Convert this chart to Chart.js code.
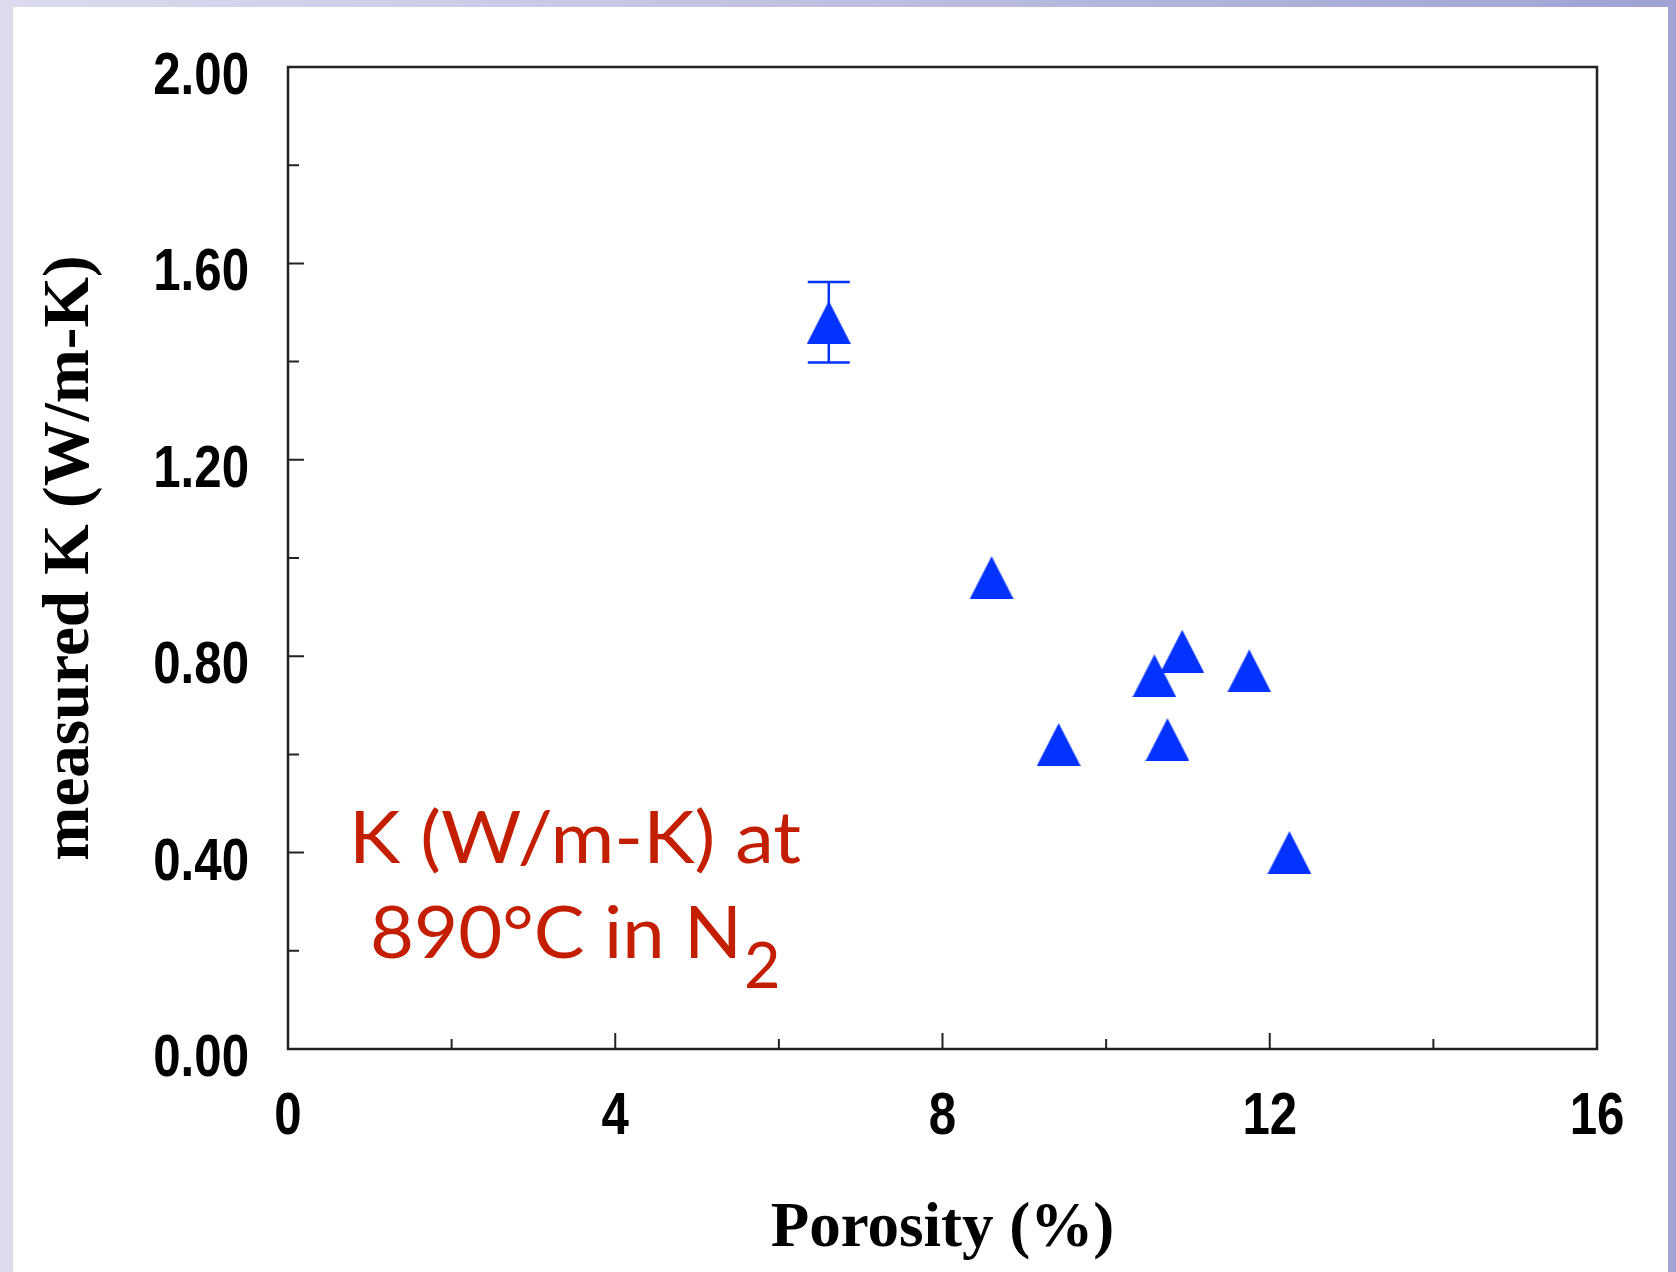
<!DOCTYPE html>
<html>
<head>
<meta charset="utf-8">
<title>Measured K vs porosity</title>
<script src="https://cdn.jsdelivr.net/npm/chart.js@4.4.1/dist/chart.umd.min.js"></script>
<style>
  html, body { margin: 0; padding: 0; }
  body {
    width: 1676px;
    height: 1272px;
    overflow: hidden;
    position: relative;
    background: linear-gradient(to right, #dcdcee, #a0a3d3);
  }
  #panel { position: absolute; left: 13px; top: 7px; width: 1655px; height: 1265px; background: #fff; }
  #myChart { position: absolute; left: 0; top: 0; }
</style>
</head>
<body>
<div id="panel"></div>
<canvas id="myChart" width="1676" height="1272"></canvas>
<script>
/* globals Chart:false */

// Data
const porosity = [6.61, 8.60, 9.42, 10.59, 10.75, 10.93, 11.75, 12.24]
const kMeasured = [1.48, 0.96, 0.62, 0.76, 0.63, 0.81, 0.77, 0.40]
const kError = [0.082, 0, 0, 0, 0, 0, 0, 0]

// Axis ticks
const xTicks = [0, 4, 8, 12, 16]
const xMinor = [2, 6, 10, 14]
const yTicks = [0, 0.4, 0.8, 1.2, 1.6, 2.0]
const yMinor = [0.2, 0.6, 1.0, 1.4, 1.8]

const noteLine1 = 'K (W/m-K) at'
const noteLine2 = '890°C in N'
const noteSub = '2'

const blue = '#0433ff'
const red = '#c41e00'
const axisColor = '#222'
const labelFont = 'bold 60px "Liberation Sans", Arial, sans-serif'
const titleFont = { family: "'Liberation Serif', 'Times New Roman', serif", weight: 'bold', size: 63 }

// filled triangle marker, centred on its bounding box
const tri = document.createElement('canvas')
tri.width = 44
tri.height = 43
const tctx = tri.getContext('2d')
tctx.fillStyle = blue
tctx.beginPath()
tctx.moveTo(22, 0)
tctx.lineTo(44, 43)
tctx.lineTo(0, 43)
tctx.closePath()
tctx.fill()

// narrow bold text (the original uses a condensed face)
function narrowText(ctx, text, x, y, align) {
  const sx = 0.82
  ctx.save()
  ctx.translate(x, y)
  ctx.scale(sx, 1)
  ctx.textAlign = align
  ctx.fillText(text, 0, 0)
  ctx.restore()
}

function stretchText(ctx, text, x, y, width) {
  const w = ctx.measureText(text).width
  ctx.save()
  ctx.translate(x, y)
  ctx.scale(width / w, 1)
  ctx.fillText(text, 0, 0)
  ctx.restore()
}

const framePlugin = {
  id: 'frame',
  beforeDatasetsDraw(chart) {
    const { ctx, scales: { x, y } } = chart
    // error bars
    ctx.save()
    ctx.strokeStyle = blue
    ctx.lineWidth = 2.5
    porosity.forEach((p, i) => {
      if (!kError[i]) return
      const px = x.getPixelForValue(p)
      const top = y.getPixelForValue(kMeasured[i] + kError[i])
      const bot = y.getPixelForValue(kMeasured[i] - kError[i])
      ctx.beginPath()
      ctx.moveTo(px, top); ctx.lineTo(px, bot)
      ctx.moveTo(px - 21, top); ctx.lineTo(px + 21, top)
      ctx.moveTo(px - 21, bot); ctx.lineTo(px + 21, bot)
      ctx.stroke()
    })
    ctx.restore()
  },
  afterDraw(chart) {
    const { ctx, chartArea: a, scales: { x, y } } = chart
    ctx.save()
    ctx.strokeStyle = axisColor
    ctx.lineWidth = 2.5
    ctx.strokeRect(a.left, a.top, a.right - a.left, a.bottom - a.top)

    // inward ticks on the left and bottom axes
    ctx.lineWidth = 2
    ctx.beginPath()
    yTicks.forEach(v => { const py = y.getPixelForValue(v); ctx.moveTo(a.left, py); ctx.lineTo(a.left + 16, py) })
    yMinor.forEach(v => { const py = y.getPixelForValue(v); ctx.moveTo(a.left, py); ctx.lineTo(a.left + 11, py) })
    xTicks.forEach(v => { const px = x.getPixelForValue(v); ctx.moveTo(px, a.bottom); ctx.lineTo(px, a.bottom - 16) })
    xMinor.forEach(v => { const px = x.getPixelForValue(v); ctx.moveTo(px, a.bottom); ctx.lineTo(px, a.bottom - 10) })
    ctx.stroke()

    // tick labels
    ctx.fillStyle = '#000'
    ctx.font = labelFont
    ctx.textBaseline = 'alphabetic'
    yTicks.forEach(v => narrowText(ctx, v.toFixed(2), a.left - 39, y.getPixelForValue(v) + 27, 'right'))
    xTicks.forEach(v => narrowText(ctx, String(v), x.getPixelForValue(v), a.bottom + 85, 'center'))

    // red note
    ctx.fillStyle = red
    ctx.textAlign = 'left'
    ctx.font = '71px Lato, "Open Sans", sans-serif'
    stretchText(ctx, noteLine1, 349, 863, 452)
    stretchText(ctx, noteLine2, 370, 958, 372)
    ctx.font = '63px Lato, "Open Sans", sans-serif'
    ctx.fillText(noteSub, 744, 988)
    ctx.restore()
  }
}

const ctx = document.getElementById('myChart')
// eslint-disable-next-line no-unused-vars
const myChart = new Chart(ctx, {
  type: 'scatter',
  data: {
    datasets: [{
      data: porosity.map((p, i) => ({ x: p, y: kMeasured[i] })),
      pointStyle: tri,
      pointRadius: 22,
      pointHoverRadius: 22,
      backgroundColor: blue,
      borderColor: blue
    }]
  },
  options: {
    responsive: false,
    devicePixelRatio: 1,
    animation: false,
    events: [],
    layout: { padding: { left: 0, right: 79, top: 67, bottom: 0 } },
    plugins: {
      legend: { display: false },
      tooltip: { enabled: false }
    },
    scales: {
      x: {
        type: 'linear',
        min: 0,
        max: 16,
        afterBuildTicks: s => { s.ticks = xTicks.map(v => ({ value: v })) },
        afterFit: s => { s.height = 223 },
        grid: { display: false, drawTicks: false },
        border: { display: false },
        ticks: { display: false },
        title: { display: true, text: 'Porosity (%)', font: titleFont, color: '#000', padding: 4 }
      },
      y: {
        type: 'linear',
        min: 0,
        max: 2,
        afterBuildTicks: s => { s.ticks = yTicks.map(v => ({ value: v })) },
        afterFit: s => { s.width = 288 },
        grid: { display: false, drawTicks: false },
        border: { display: false },
        ticks: { display: false },
        title: { display: true, text: 'measured K (W/m-K)', font: { ...titleFont, size: 65 }, color: '#000', padding: 32 }
      }
    }
  },
  plugins: [framePlugin]
})
</script>
</body>
</html>
